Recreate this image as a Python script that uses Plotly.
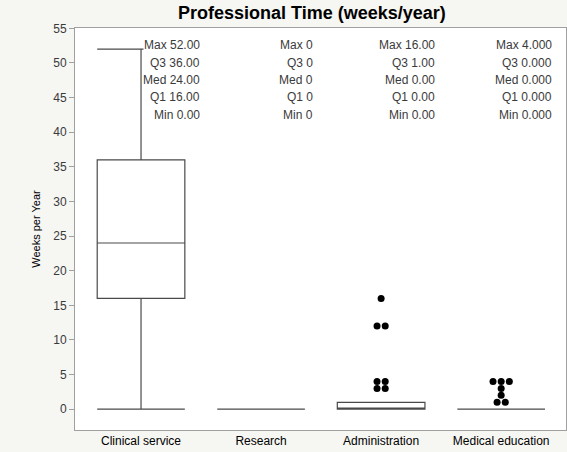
import plotly.graph_objects as go

categories = ["Clinical service", "Research", "Administration", "Medical education"]
q1 = [16, 0, 0, 0]
median = [24, 0, 0, 0]
q3 = [36, 0, 1, 0]
lower_whisker = [0, 0, 0, 0]
upper_whisker = [52, 0, 1, 0]

admin_outliers = [16, 12, 12, 4, 4, 3, 3]
meded_outliers = [4, 4, 4, 3, 2, 1, 1]

stat_labels = ["Max", "Q3", "Med", "Q1", "Min"]
stat_values = [
    ["52.00", "36.00", "24.00", "16.00", "0.00"],
    ["0", "0", "0", "0", "0"],
    ["16.00", "1.00", "0.00", "0.00", "0.00"],
    ["4.000", "0.000", "0.000", "0.000", "0.000"],
]

y_ticks = list(range(0, 56, 5))

LINE = "#4a4a4a"
TEXT = "#3a3a3a"
FONT = "Liberation Sans, Arial, sans-serif"

fig = go.Figure()

xpos = list(range(len(categories)))
fig.add_trace(go.Box(
    x=xpos, q1=q1, median=median, q3=q3,
    lowerfence=lower_whisker, upperfence=upper_whisker,
    width=0.73, whiskerwidth=1,
    fillcolor="white", line=dict(color=LINE, width=1.2),
    boxpoints=False, showlegend=False, hoverinfo="skip",
))


def swarm(values, center, dx=0.068):
    xs, ys = [], []
    groups = {}
    for v in values:
        groups.setdefault(v, 0)
        groups[v] += 1
    for v, n in groups.items():
        for i in range(n):
            xs.append(center + (i - (n - 1) / 2) * dx)
            ys.append(v)
    return xs, ys


for idx, vals in [(2, admin_outliers), (3, meded_outliers)]:
    xs, ys = swarm(vals, idx)
    fig.add_trace(go.Scatter(
        x=xs, y=ys, mode="markers",
        marker=dict(color="black", size=7),
        showlegend=False, hoverinfo="skip",
    ))

row_top = 0.957
row_step = 0.0432
stat_x_offset = [0.5, 0.44, 0.46, 0.43]
for ci, vals in enumerate(stat_values):
    for ri, (lab, val) in enumerate(zip(stat_labels, vals)):
        fig.add_annotation(
            x=ci + stat_x_offset[ci], xref="x",
            y=row_top - ri * row_step, yref="paper",
            text=f"{lab} {val}", showarrow=False,
            xanchor="right", yanchor="middle",
            font=dict(size=12, color=TEXT, family=FONT),
            bgcolor="white" if ri == 0 else "rgba(0,0,0,0)",
            borderpad=0,
        )

fig.update_layout(
    width=567, height=452,
    margin=dict(l=75, r=1, t=28, b=22),
    paper_bgcolor="#f6f6f3",
    plot_bgcolor="white",
    font=dict(family=FONT, color=TEXT, size=12),
    title=dict(text="<b>Professional Time (weeks/year)</b>",
               x=0.55, xanchor="center", y=0.972, yanchor="middle",
               font=dict(size=18, color="black", family=FONT)),
    xaxis=dict(
        range=[-0.55, 3.54], tickvals=xpos, ticktext=categories,
        showgrid=False, zeroline=False, ticks="", showline=True,
        linecolor="#a0a0a0", mirror=True,
        tickfont=dict(size=12, color="black"),
    ),
    yaxis=dict(
        range=[-3, 55.05], tickvals=y_ticks,
        showgrid=False, zeroline=False, ticks="outside", ticklen=5,
        tickcolor="#a0a0a0", showline=True, linecolor="#a0a0a0", mirror=True,
        title=dict(text="Weeks per Year", font=dict(size=11, color="black"), standoff=10),
        tickfont=dict(size=12, color=TEXT),
    ),
)

fig.write_html(
    "out.html",
    config={"displayModeBar": False},
    post_script="document.body.style.margin='0';document.body.style.overflow='hidden';",
)
